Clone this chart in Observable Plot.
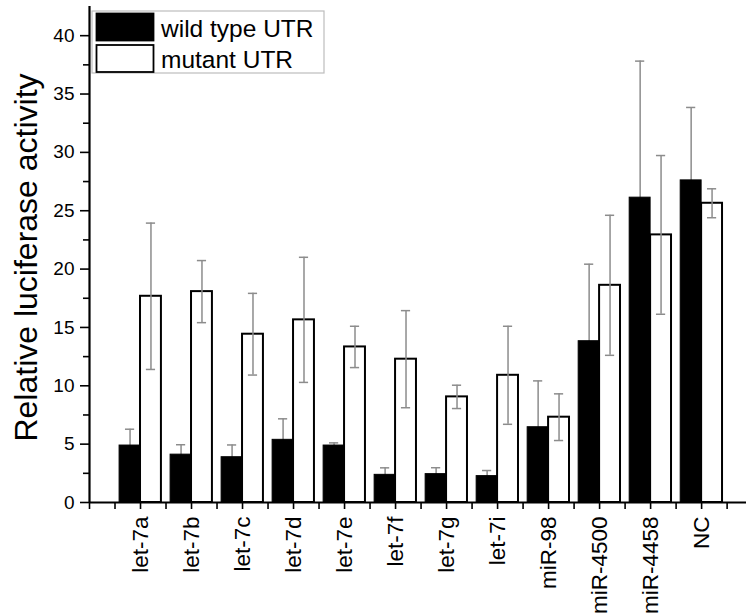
<!DOCTYPE html>
<html>
<head>
<meta charset="utf-8">
<script src="https://cdn.jsdelivr.net/npm/d3@7"></script>
<script src="https://cdn.jsdelivr.net/npm/@observablehq/plot@0.6"></script>
<style>
  html, body { margin: 0; padding: 0; background: #fff; }
  #chart { position: relative; width: 746px; height: 615px; }
  #chart svg g[aria-label="y-axis tick label"] text { font-size: 19px !important; }
  #chart svg g[aria-label="x-axis tick label"] text { font-size: 22.5px !important; }
</style>
</head>
<body>
<div id="chart"></div>
<script>
const categories = ["let-7a","let-7b","let-7c","let-7d","let-7e","let-7f","let-7g","let-7i","miR-98","miR-4500","miR-4458","NC"];
const series = ["wild type UTR", "mutant UTR"];
const wildType    = [4.88, 4.10, 3.88, 5.37, 4.88, 2.37, 2.43, 2.26, 6.45, 13.82, 26.12, 27.60];
const wildTypeErr = [1.40, 0.85, 1.05, 1.80, 0.23, 0.60, 0.55, 0.48, 3.97, 6.60, 11.70, 6.25];
const mutant      = [17.67, 18.07, 14.42, 15.65, 13.33, 12.28, 9.05, 10.90, 7.31, 18.61, 22.93, 25.64];
const mutantErr   = [6.27, 2.66, 3.50, 5.36, 1.77, 4.16, 1.00, 4.20, 2.00, 6.00, 6.80, 1.24];
const yTicks = [0, 5, 10, 15, 20, 25, 30, 35, 40];

const rows = categories.map((c, k) => ({
  c, i: k + 1,
  wt: wildType[k], wtErr: wildTypeErr[k],
  mu: mutant[k], muErr: mutantErr[k]
}));

const barW = 0.41, capW = 0.09;
const errColor = "#8c8c8c";
const xTicks = rows.map(d => d.i);
const xMinor = [0].concat(rows.map(d => d.i - 0.5), [rows.length + 0.5]);
const yMinor = yTicks.map(v => v + 2.5);

const plot = Plot.plot({
  width: 746,
  height: 615,
  marginLeft: 89,
  marginRight: 0,
  marginTop: 6,
  marginBottom: 113,
  style: { fontFamily: "'Liberation Sans', Arial, sans-serif", background: "#fff", color: "#000" },
  x: { type: "linear", domain: [0, 12.88], label: null },
  y: { domain: [0, 42.5], label: null },
  marks: [
    // mutant bars
    Plot.rect(rows, { x1: d => d.i, x2: d => d.i + barW, y1: 0, y2: "mu", fill: "#fff", stroke: "#000", strokeWidth: 2 }),
    // mutant error bars
    Plot.ruleX(rows, { x: d => d.i + barW / 2, y1: d => d.mu - d.muErr, y2: d => d.mu + d.muErr, stroke: errColor, strokeWidth: 1.5 }),
    Plot.ruleY(rows, { y: d => d.mu + d.muErr, x1: d => d.i + barW / 2 - capW, x2: d => d.i + barW / 2 + capW, stroke: errColor, strokeWidth: 1.5 }),
    Plot.ruleY(rows, { y: d => d.mu - d.muErr, x1: d => d.i + barW / 2 - capW, x2: d => d.i + barW / 2 + capW, stroke: errColor, strokeWidth: 1.5 }),
    // wild type error bars (behind the black bars)
    Plot.ruleX(rows, { x: d => d.i - barW / 2, y1: d => d.wt - d.wtErr, y2: d => d.wt + d.wtErr, stroke: errColor, strokeWidth: 1.5 }),
    Plot.ruleY(rows, { y: d => d.wt + d.wtErr, x1: d => d.i - barW / 2 - capW, x2: d => d.i - barW / 2 + capW, stroke: errColor, strokeWidth: 1.5 }),
    // wild type bars
    Plot.rect(rows, { x1: d => d.i - barW, x2: d => d.i, y1: 0, y2: "wt", fill: "#000", stroke: "#000", strokeWidth: 1 }),
    // axes
    Plot.axisY({ ticks: yTicks, tickSize: 9, tickPadding: 6, fontSize: 19, strokeWidth: 1.6, stroke: "#000", fill: "#000" }),
    Plot.axisY({ ticks: yMinor.filter(v => v < 42.5), tickSize: 6, tickFormat: () => "", strokeWidth: 1.6, stroke: "#000" }),
    Plot.axisX({ ticks: xTicks, tickFormat: v => categories[v - 1], tickRotate: -90, tickSize: 7, tickPadding: 7, fontSize: 22, strokeWidth: 1.6, stroke: "#000", fill: "#000" }),
    Plot.axisX({ ticks: xMinor, tickSize: 7, tickFormat: () => "", strokeWidth: 1.6, stroke: "#000" }),
    Plot.ruleX([0], { y1: 0, y2: 42.5, stroke: "#000", strokeWidth: 2.2 }),
    Plot.ruleY([0], { stroke: "#000", strokeWidth: 2.2 }),
    Plot.text(["Relative luciferase activity"], { frameAnchor: "left", dx: -63, dy: 3, rotate: -90, lineAnchor: "middle", textAnchor: "middle", fontSize: 32, fill: "#000" })
  ]
});

document.getElementById("chart").appendChild(plot);

// legend drawn inside the SVG
const svg = d3.select(plot);
const lg = svg.append("g").attr("font-family", "'Liberation Sans', Arial, sans-serif").attr("text-anchor", "start");
lg.append("rect").attr("x", 92).attr("y", 11).attr("width", 232).attr("height", 62)
  .attr("fill", "#fff").attr("stroke", "#bdbdbd").attr("stroke-width", 1.2);
const swFill = ["#000", "#fff"];
series.forEach((s, k) => {
  lg.append("rect").attr("x", 96.5).attr("y", 13.5 + k * 31.5).attr("width", 57).attr("height", 27)
    .attr("fill", swFill[k]).attr("stroke", "#000").attr("stroke-width", 1.8);
  lg.append("text").attr("x", 161).attr("y", 36.5 + k * 31.5).attr("text-anchor", "start")
    .style("font-size", "24.5px").attr("fill", "#000").text(s);
});
</script>
</body>
</html>
